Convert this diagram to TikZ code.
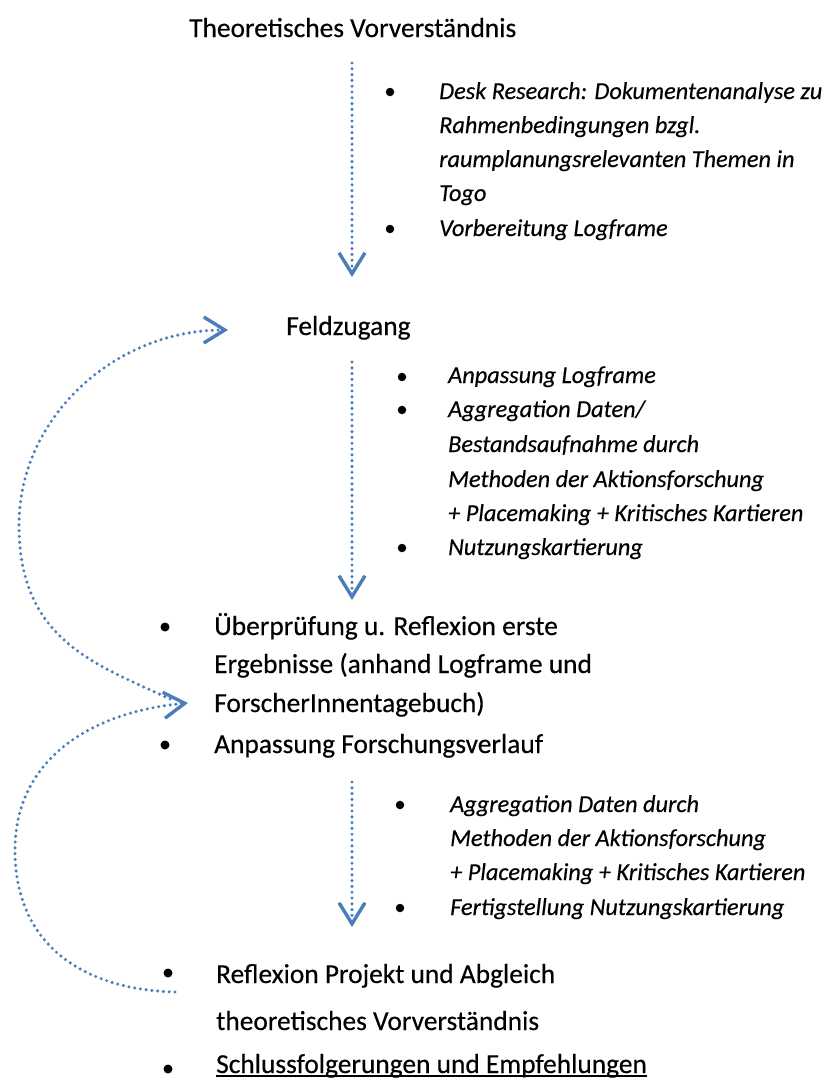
\documentclass[tikz,border=0pt]{standalone}
\usepackage{fontspec}
\setmainfont{Carlito}[UprightFeatures={FakeBold=0.35},ItalicFeatures={FakeBold=0.35}]
\usetikzlibrary{arrows.meta}
\definecolor{flowblue}{RGB}{74,126,187}
\tikzset{
  flow/.style={draw=flowblue, line width=3.4pt, line cap=round,
    dash pattern=on 0pt off 5.8pt,
    -{Straight Barb[length=21pt,width=26pt,line width=3.4pt]}},
  big/.style={anchor=base west, inner sep=0pt, font=\fontsize{27.4}{38}\selectfont},
  small/.style={anchor=base west, inner sep=0pt, font=\fontsize{24.3}{34}\selectfont\itshape},
  bul/.style={circle, fill=black, inner sep=0pt, minimum size=9pt},
  sbul/.style={circle, fill=black, inner sep=0pt, minimum size=8.5pt}
}
\begin{document}
\begin{tikzpicture}[x=1pt,y=-1pt]
\useasboundingbox (0,0) rectangle (824,1079);

% title
\node[big] (t0) at (189,37) {Theoretisches Vorverständnis};
\coordinate (a1s) at (352,63);
\coordinate (a1e) at (352,277);
\draw[flow] (a1s) -- (a1e);

% block 1
\node[sbul] (b1a) at (390,92) {};
\node[small] (d1) at (439,99) {Desk Research: Dokumentenanalyse zu};
\node[small] (d2) at (439,133) {Rahmenbedingungen bzgl.};
\node[small] (d3) at (439,167) {raumplanungsrelevanten Themen in};
\node[small] (d4) at (439,201) {Togo};
\node[sbul] (b1b) at (390,229) {};
\node[small] (d5) at (439,236) {Vorbereitung Logframe};

% Feldzugang
\node[big] (f0) at (286,335) {Feldzugang};
\coordinate (a2s) at (352,362);
\coordinate (a2e) at (352,600);
\draw[flow] (a2s) -- (a2e);

% block 2
\node[sbul] (b2a) at (402,377) {};
\node[small] (e1) at (448,383) {Anpassung Logframe};
\node[sbul] (b2b) at (402,410) {};
\node[small] (e2) at (448,417) {Aggregation Daten/};
\node[small] (e3) at (448,452) {Bestandsaufnahme durch};
\node[small] (e4) at (448,487) {Methoden der Aktionsforschung};
\node[small] (e5) at (448,521) {+ Placemaking + Kritisches Kartieren};
\node[sbul] (b2c) at (402,548) {};
\node[small] (e6) at (448,555) {Nutzungskartierung};

% block 3
\node[bul] (b3a) at (165,627) {};
\node[big] (u1) at (214,635) {Überprüfung u. Reflexion erste};
\node[big] (u2) at (214,673) {Ergebnisse (anhand Logframe und};
\node[big] (u3) at (214,712) {ForscherInnentagebuch)};
\node[bul] (b3b) at (165,745) {};
\node[big] (u4) at (214,753) {Anpassung Forschungsverlauf};

\coordinate (a3s) at (352,782);
\coordinate (a3e) at (352,927);
\draw[flow] (a3s) -- (a3e);

% block 4
\node[sbul] (b4a) at (400,805) {};
\node[small] (g1) at (450,812) {Aggregation Daten durch};
\node[small] (g2) at (450,846) {Methoden der Aktionsforschung};
\node[small] (g3) at (450,880) {+ Placemaking + Kritisches Kartieren};
\node[sbul] (b4b) at (400,908) {};
\node[small] (g4) at (450,915) {Fertigstellung Nutzungskartierung};

% block 5
\node[bul] (b5a) at (168,973) {};
\node[big] (r1) at (216,983) {Reflexion Projekt und Abgleich};
\node[big] (r2) at (216,1030) {theoretisches Vorverständnis};
\node[bul] (b5b) at (168,1069) {};
\node[big] (s1) at (216,1073) {Schlussfolgerungen und Empfehlungen};
\draw[line width=1.4pt] ([yshift=-3pt]s1.base west) -- ([yshift=-3pt]s1.base east);

% feedback arcs
\coordinate (c1s) at (170,699);
\coordinate (c1m) at (19,525);
\coordinate (c1e) at (228,330);
\draw[flow] (c1s) .. controls (95,664) and (19,640) .. (c1m)
  .. controls (19,417) and (115,330) .. (c1e);

\coordinate (c2s) at (175,992);
\coordinate (c2m) at (15,850);
\coordinate (c2e) at (188,703);
\draw[flow] (c2s) .. controls (90,990) and (15,950) .. (c2m)
  .. controls (15,760) and (90,712) .. (c2e);
\end{tikzpicture}
\end{document}
